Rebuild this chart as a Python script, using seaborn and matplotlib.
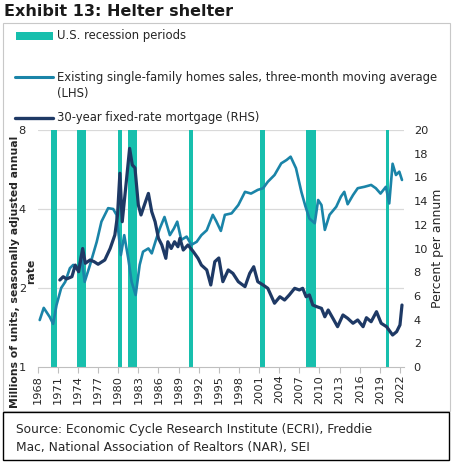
import matplotlib
matplotlib.use("Agg")
import matplotlib.pyplot as plt
from matplotlib.lines import Line2D
from matplotlib.patches import Rectangle
import seaborn as sns

# recession periods (decimal years)
recession_start = [1969.92, 1973.83, 1980.0, 1981.5, 1990.5, 2001.17, 2007.92, 2019.98]
recession_end = [1970.92, 1975.17, 1980.5, 1982.83, 1991.17, 2001.83, 2009.42, 2020.3]

# existing single-family home sales, millions (LHS, log scale)
sales_years = [1968.3, 1968.9, 1969.8, 1970.3, 1970.8, 1971.5, 1972.1, 1972.8, 1973.3, 1974.0,
               1974.5, 1975.0, 1975.8, 1976.8, 1977.5, 1978.5, 1979.25, 1979.75, 1980.4, 1980.9,
               1981.5, 1982.0, 1982.6, 1983.2, 1983.7, 1984.5, 1985.0, 1985.7, 1986.2, 1986.9,
               1987.7, 1988.3, 1988.8, 1989.4, 1990.2, 1990.9, 1991.7, 1992.4, 1993.2, 1994.1,
               1994.6, 1995.3, 1995.9, 1996.9, 1997.9, 1998.9, 1999.8, 2000.8, 2001.6, 2002.3,
               2003.3, 2004.3, 2005.1, 2005.7, 2006.5, 2007.3, 2007.9, 2008.5, 2009.3, 2009.8,
               2010.3, 2010.8, 2011.5, 2012.5, 2013.2, 2013.7, 2014.2, 2015.0, 2015.7, 2016.7,
               2017.7, 2018.4, 2019.1, 2019.9, 2020.4, 2020.9, 2021.4, 2021.9, 2022.3]
sales_values = [1.51, 1.68, 1.55, 1.46, 1.72, 2.0, 2.11, 2.38, 2.45, 2.34,
                2.67, 2.11, 2.45, 3.0, 3.58, 4.03, 4.0, 3.8, 2.67, 3.18,
                2.59, 2.11, 1.88, 2.45, 2.75, 2.83, 2.71, 3.09, 3.37, 3.73,
                3.18, 3.37, 3.58, 3.05, 3.14, 2.92, 3.0, 3.18, 3.32, 3.8,
                3.6, 3.3, 3.8, 3.85, 4.14, 4.65, 4.58, 4.73, 4.8, 5.08,
                5.39, 5.97, 6.15, 6.33, 5.72, 4.65, 4.1, 3.68, 3.53, 4.33,
                4.14, 3.33, 3.8, 4.08, 4.46, 4.65, 4.17, 4.52, 4.8, 4.86,
                4.94, 4.8, 4.58, 4.86, 4.2, 5.95, 5.39, 5.55, 5.16]

# 30-year fixed-rate mortgage, percent (RHS)
mortgage_years = [1971.3, 1971.8, 1972.3, 1973.1, 1973.6, 1974.1, 1974.7, 1975.1, 1975.8, 1976.4,
                  1977.0, 1978.0, 1978.8, 1979.5, 1979.9, 1980.25, 1980.6, 1981.2, 1981.7, 1982.1,
                  1982.5, 1983.0, 1983.4, 1983.9, 1984.5, 1985.0, 1985.5, 1986.0, 1986.5, 1987.1,
                  1987.4, 1987.9, 1988.4, 1988.9, 1989.2, 1989.7, 1990.4, 1991.2, 1991.9, 1992.4,
                  1993.2, 1993.8, 1994.4, 1995.0, 1995.6, 1996.4, 1997.1, 1997.9, 1998.9, 1999.6,
                  2000.2, 2000.8, 2001.6, 2002.3, 2003.3, 2004.1, 2004.8, 2005.5, 2006.3, 2007.0,
                  2007.5, 2008.0, 2008.5, 2009.0, 2009.6, 2010.3, 2010.8, 2011.3, 2012.0, 2012.7,
                  2013.5, 2014.2, 2015.0, 2015.7, 2016.5, 2017.0, 2017.7, 2018.5, 2019.2, 2020.0,
                  2020.9, 2021.5, 2022.0, 2022.3]
mortgage_values = [7.34, 7.62, 7.43, 7.62, 8.6, 8.04, 10.0, 8.75, 9.03, 8.89,
                   8.67, 9.03, 10.0, 11.14, 12.83, 16.35, 12.26, 15.6, 18.45, 17.05,
                   16.8, 13.67, 12.83, 13.67, 14.65, 13.1, 12.26, 10.86, 10.3, 9.17,
                   10.57, 10.0, 10.57, 10.15, 10.86, 9.87, 10.3, 9.73, 9.17, 8.6,
                   8.19, 6.92, 8.89, 9.2, 7.2, 8.19, 7.9, 7.2, 6.78, 7.9,
                   8.46, 7.2, 6.92, 6.64, 5.38, 5.93, 5.65, 6.08, 6.64, 6.5,
                   6.64, 5.93, 6.08, 5.23, 5.09, 4.95, 4.24, 4.81, 4.11, 3.4,
                   4.39, 4.11, 3.69, 3.97, 3.4, 4.16, 3.82, 4.67, 3.69, 3.4,
                   2.7, 2.98, 3.55, 5.23]

year_ticks = list(range(1968, 2023, 3))
left_ticks = [1, 2, 4, 8]
right_ticks = list(range(0, 21, 2))

recession_color = "#17bfad"
sales_color = "#1a84a8"
mortgage_color = "#1e3965"
grid_color = "#d9d9d9"

W, H = 454, 467


def fx(px):
    return px / W


def fy(py):
    return (H - py) / H


def main():
    sns.set_style("white")
    plt.rcParams["font.family"] = ["DejaVu Sans"]

    fig = plt.figure(figsize=(W / 100, H / 100), dpi=100)
    ax = fig.add_axes([fx(37.7), fy(367), (404 - 37.7) / W, 237 / H])

    for s, e in zip(recession_start, recession_end):
        ax.axvspan(s, e, facecolor=recession_color, edgecolor="none", lw=0, zorder=1)

    sns.lineplot(x=sales_years, y=sales_values, ax=ax, color=sales_color,
                 linewidth=1.9, zorder=3)
    ax.set_yscale("log", base=2)
    ax.set_ylim(1, 8)
    ax.set_yticks(left_ticks)
    ax.set_yticklabels([str(t) for t in left_ticks])
    ax.minorticks_off()
    ax.set_xlim(1968, 2022.6)
    ax.set_xticks(year_ticks)
    ax.set_xticklabels([str(t) for t in year_ticks], rotation=90)
    for t in [2, 4, 8]:
        ax.axhline(t, color=grid_color, lw=0.9, zorder=0)
    for sp in ["top", "right", "left"]:
        ax.spines[sp].set_visible(False)
    ax.spines["bottom"].set_color("#bfbfbf")
    ax.tick_params(axis="x", length=4, width=0.8, color="#bfbfbf", pad=1.5,
                   labelsize=8.2, bottom=True)
    ax.tick_params(axis="y", length=0, pad=8.5, labelsize=8.2)

    ax2 = ax.twinx()
    sns.lineplot(x=mortgage_years, y=mortgage_values, ax=ax2, color=mortgage_color,
                 linewidth=2.3, zorder=4)
    ax2.set_ylim(0, 20)
    ax2.set_yticks(right_ticks)
    ax2.tick_params(axis="y", length=0, pad=7, labelsize=8.2)
    for sp in ["top", "right", "left", "bottom"]:
        ax2.spines[sp].set_visible(False)
    ax.set_ylabel("")
    ax2.set_ylabel("")

    # axis titles
    fig.text(fx(15), fy(271.5), "Millions of units, seasonally adjusted annual",
             rotation=90, ha="center", va="center", fontsize=7.8, fontweight="bold")
    fig.text(fx(31), fy(271.5), "rate", rotation=90, ha="center", va="center",
             fontsize=7.8, fontweight="bold")
    fig.text(fx(438), fy(248), "Percent per annum", rotation=90, ha="center",
             va="center", fontsize=9)

    # title
    fig.text(fx(4), fy(12), "Exhibit 13: Helter shelter", ha="left", va="center",
             fontsize=11.5, fontweight="bold", color="#1a1a1a")

    # frames
    fig.add_artist(Rectangle((fx(3), fy(411)), (450 - 3) / W, (411 - 23) / H,
                             transform=fig.transFigure, fill=False,
                             edgecolor="#c8c8c8", lw=0.8))
    fig.add_artist(Rectangle((fx(3), fy(460)), (449 - 3) / W, (460 - 412) / H,
                             transform=fig.transFigure, fill=False,
                             edgecolor="black", lw=1.0))

    # legend
    fig.add_artist(Rectangle((fx(16), fy(40)), 37 / W, 8 / H,
                             transform=fig.transFigure, color=recession_color, lw=0))
    fig.add_artist(Line2D([fx(15), fx(53)], [fy(77), fy(77)], transform=fig.transFigure,
                          color=sales_color, lw=2.2))
    fig.add_artist(Line2D([fx(15), fx(53)], [fy(118), fy(118)], transform=fig.transFigure,
                          color=mortgage_color, lw=2.4))
    leg_fs = 8.4
    fig.text(fx(57), fy(36), "U.S. recession periods", va="center", fontsize=leg_fs)
    fig.text(fx(57), fy(77), "Existing single-family homes sales, three-month moving average",
             va="center", fontsize=leg_fs)
    fig.text(fx(57), fy(93), "(LHS)", va="center", fontsize=leg_fs)
    fig.text(fx(57), fy(118), "30-year fixed-rate mortgage (RHS)", va="center", fontsize=leg_fs)

    # source
    fig.text(fx(16), fy(429), "Source: Economic Cycle Research Institute (ECRI), Freddie",
             va="center", fontsize=8.8)
    fig.text(fx(16), fy(447), "Mac, National Association of Realtors (NAR), SEI",
             va="center", fontsize=8.8)

    fig.savefig("out.png", dpi=100)


if __name__ == "__main__":
    main()
